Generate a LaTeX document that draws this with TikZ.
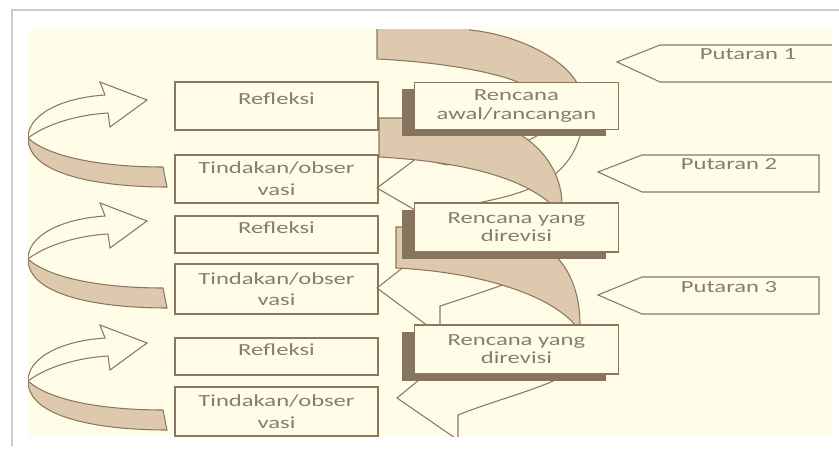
\documentclass[tikz,border=0pt]{standalone}
\usepackage{fontspec}
\newfontfamily\smartfont{Carlito}[FakeStretch=1.45]
\usetikzlibrary{positioning,shadows}
\definecolor{cream}{RGB}{255,253,231}
\definecolor{ribbon}{RGB}{222,200,174}
\definecolor{edge}{RGB}{138,120,94}
\definecolor{shade}{RGB}{135,116,94}
\definecolor{ink}{RGB}{135,125,110}
\tikzset{x=0.03cm, y=-0.03cm, % one unit is one pixel, y runs down
every node/.style={font=\smartfont\fontsize{14.5}{18.5}\selectfont, text=ink},
box/.style={draw=edge, line width=1.2pt, fill=cream, minimum width=6.09cm, align=center, inner sep=2pt},
refl/.style={box, text height=10pt, text depth=12pt}, % text sits a bit high
plan/.style={box, minimum width=6.12cm, font=\smartfont\fontsize{14.5}{15.5}\selectfont,
  drop shadow={shadow xshift=-0.36cm, shadow yshift=-0.2cm, opacity=1, fill=shade}},
band/.style={draw=edge, line width=0.9pt, fill=ribbon}, % back of a ribbon
rim/.style={draw=edge, line width=0.9pt}, % outline only
}
\begin{document}
\begin{tikzpicture}
\useasboundingbox (0,0) rectangle (839,450);
\fill[white] (0,0) rectangle (839,450);
\fill[cream] (28,30) rectangle (832,436);
\draw[black!20, line width=1pt] (12,446) -- (12,10) -- (839,10);

\begin{scope}
\clip (28,30) rectangle (832,436);

% left boxes
\node[refl, minimum height=1.44cm] (refl1) at (276.5,106) {Refleksi};
\node[box, minimum height=1.44cm] (act1) at (276.5,179) {Tindakan/obser\\vasi};
\node[refl, minimum height=1.11cm] (refl2) at (276.5,234.5) {Refleksi};
\node[box, minimum height=1.5cm] (act2) at (276.5,289) {Tindakan/obser\\vasi};
\node[refl, minimum height=1.11cm] (refl3) at (276.5,356.5) {Refleksi};
\node[box, minimum height=1.47cm] (act3) at (276.5,411.5) {Tindakan/obser\\vasi};

% curved arrows on the left, Tindakan -> Refleksi
\foreach \dy in {0,121,243}{
\begin{scope}[shift={(0,\dy)}]
\draw[rim, fill=cream] (147,100) -- (100,82) -- (105,95)
  .. controls (60,98) and (28,115) .. (28,138)
  .. controls (45,125) and (75,115) .. (108,113) -- (110,127) -- cycle;
\draw[band] (28,138) .. controls (50,158) and (105,167) .. (163,167) -- (167,187)
  .. controls (100,187) and (28,175) .. (28,138) -- cycle;
\end{scope}
}

% front arrows, Rencana -> Tindakan
\draw[rim] (550,128) .. controls (520,148) and (480,160) .. (447,165) -- (417,158)
  -- (377,188) -- (420,213);
\draw[rim] (462,206) .. controls (520,195) and (570,185) .. (582,128);
\draw[rim] (410,262) -- (377,288) -- (440,335) -- (440,306)
  .. controls (480,293) and (520,280) .. (560,262);
\draw[rim] (425,375) -- (397,398) -- (458,440) -- (458,415)
  .. controls (490,402) and (530,392) .. (560,378);

% ribbons, Refleksi -> next Rencana
\draw[band] (377,20) -- (470,20) -- (470,30) .. controls (520,35) and (565,60) .. (577,83)
  -- (520,83) .. controls (495,72) and (440,62) .. (377,59) -- cycle;
\draw[band] (379,118) -- (470,118) .. controls (530,125) and (562,165) .. (562,205)
  -- (552,205) .. controls (525,180) and (470,162) .. (379,157) -- cycle;
\draw[band] (396,227) -- (500,227) .. controls (560,240) and (580,280) .. (580,325)
  -- (575,325) .. controls (550,295) and (480,272) .. (396,268) -- cycle;

% plans
\node[plan, minimum height=1.41cm, right=1.05cm of refl1] (plan1) {Rencana\\awal/rancangan};
\node[plan, minimum height=1.47cm, right=1.05cm of refl2, yshift=0.21cm] (plan2) {Rencana yang\\direvisi};
\node[plan, minimum height=1.47cm, right=1.05cm of refl3, yshift=0.21cm] (plan3) {Rencana yang\\direvisi};

% rounds
\draw[rim, fill=cream] (617,62) -- (660,45) -- (845,45) -- (845,82) -- (660,82) -- cycle;
\draw[rim, fill=cream] (598,172) -- (642,155) -- (819,155) -- (819,192) -- (642,192) -- cycle;
\draw[rim, fill=cream] (598,295) -- (642,277) -- (819,277) -- (819,314) -- (642,314) -- cycle;
\node (turn1) at (748,54) {Putaran 1};
\node (turn2) at (729,164) {Putaran 2};
\node (turn3) at (729,287) {Putaran 3};
\end{scope}
\end{tikzpicture}
\end{document}
